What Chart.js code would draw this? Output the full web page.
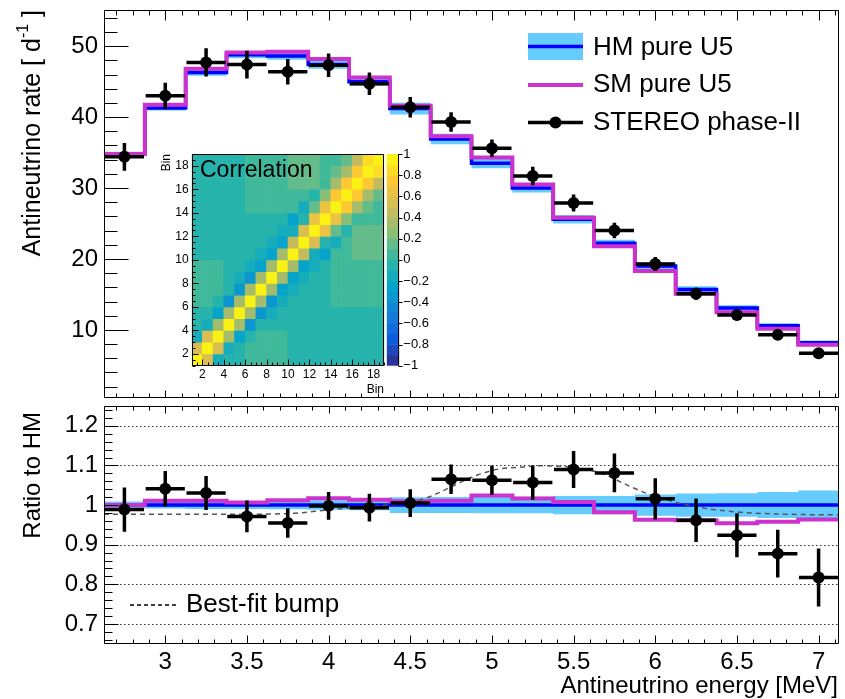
<!DOCTYPE html>
<html>
<head>
<meta charset="utf-8">
<script src="https://cdn.jsdelivr.net/npm/chart.js@4.4.1/dist/chart.umd.min.js"></script>
<style>
html,body{margin:0;padding:0;background:#fff;}
#wrap{position:relative;width:845px;height:699px;overflow:hidden;background:#fff;}
canvas{position:absolute;}
</style>
</head>
<body>
<div id="wrap">
<canvas id="cTop" width="845" height="404" style="left:0;top:0;width:845px;height:404px"></canvas>
<canvas id="cRatio" width="845" height="299" style="left:0;top:400px;width:845px;height:299px"></canvas>
<canvas id="cInset" width="240" height="250" style="left:150px;top:145px;width:240px;height:250px"></canvas>
<canvas id="cBar" width="60" height="250" style="left:380px;top:145px;width:60px;height:250px"></canvas>
</div>
<script>
// ---------------- DATA ----------------
const binCenters = [2.75,3.0,3.25,3.5,3.75,4.0,4.25,4.5,4.75,5.0,5.25,5.5,5.75,6.0,6.25,6.5,6.75,7.0];
const hmRate     = [34.8,41.3,46.3,48.8,48.6,47.4,45.0,41.2,36.9,33.5,30.0,25.6,22.2,19.0,15.7,13.1,10.6,8.2];
const hmErr      = [0.31,0.37,0.46,0.49,0.53,0.57,0.59,0.82,0.74,0.70,0.63,0.59,0.51,0.51,0.46,0.39,0.35,0.30];
const smRate     = [34.8,41.75,46.8,49.1,49.2,48.2,45.6,41.6,37.3,34.3,30.5,25.8,21.8,18.3,15.1,12.5,10.15,7.9];
const stereoRate = [34.4,43.0,47.7,47.4,46.4,47.3,44.7,41.4,39.3,35.6,31.7,27.9,24.0,19.3,15.1,12.1,9.3,6.7];
const stereoErr  = [1.95,1.86,1.99,1.95,1.80,1.66,1.58,1.44,1.37,1.24,1.29,1.20,1.09,0.99,0.86,0.73,0.64,0.60];
const bumpEnergy = [2.625,3.5,3.78,4.0,4.3,4.5,4.63,4.77,4.9,5.03,5.16,5.3,5.42,5.55,5.69,5.82,5.95,6.09,6.22,6.35,6.55,6.78,7.125];
const bumpRatio  = [0.977,0.977,0.979,0.988,0.998,1.007,1.023,1.05,1.074,1.09,1.095,1.099,1.098,1.093,1.077,1.052,1.029,1.011,0.998,0.989,0.981,0.977,0.975];
const rateTicks  = [10,20,30,40,50];
const ratioTicks = [0.7,0.8,0.9,1,1.1,1.2];
const energyTicks= [3,3.5,4,4.5,5,5.5,6,6.5,7];
const binTicks   = [2,4,6,8,10,12,14,16,18];
const corrTicks  = [-1,-0.8,-0.6,-0.4,-0.2,0,0.2,0.4,0.6,0.8,1];
const corrLevels = [-1,-0.9,-0.8,-0.7,-0.6,-0.5,-0.4,-0.3,-0.2,-0.1,0,0.1,0.2,0.3,0.4,0.5,0.6,0.7,0.8,0.9,1];
// correlation matrix: row = bin 1 (bottom) .. bin 18 (top), columns bin 1..18
const corrMatrix = [
 [1,0.55,-0.15,-0.05,-0.02,0.05,0.05,0.05,0.05,-0.02,-0.02,-0.02,-0.02,-0.02,-0.02,-0.02,-0.02,-0.02],
 [0.55,1,0.5,-0.2,-0.05,0.05,0.05,0.05,0.05,-0.02,-0.02,-0.02,-0.02,-0.02,-0.02,-0.02,-0.02,-0.02],
 [-0.15,0.5,1,0.35,-0.3,-0.05,0.05,0.05,0.05,-0.02,-0.02,-0.02,-0.02,-0.02,-0.02,-0.02,-0.02,-0.02],
 [-0.05,-0.2,0.35,1,0.3,-0.35,-0.05,-0.02,-0.02,-0.02,-0.02,-0.02,-0.02,-0.02,-0.02,-0.02,-0.02,-0.02],
 [-0.02,-0.05,-0.3,0.3,1,0.3,-0.35,-0.12,-0.02,-0.02,-0.02,-0.02,-0.02,-0.02,-0.02,-0.02,-0.02,-0.02],
 [0.05,0.05,-0.05,-0.35,0.3,1,0.3,-0.35,-0.12,-0.02,-0.02,-0.02,-0.02,0.05,0.05,0.05,0.05,0.05],
 [0.05,0.05,0.05,-0.05,-0.35,0.3,1,0.3,-0.3,-0.12,-0.02,-0.02,-0.02,0.05,0.05,0.05,0.05,0.05],
 [0.05,0.05,0.05,-0.02,-0.12,-0.35,0.3,1,0.3,-0.3,-0.15,-0.02,-0.02,0.05,0.05,0.05,0.05,0.05],
 [0.05,0.05,0.05,-0.02,-0.02,-0.12,-0.3,0.3,1,0.35,-0.25,-0.2,-0.02,0.05,0.05,0.05,0.05,0.05],
 [-0.02,-0.02,-0.02,-0.02,-0.02,-0.02,-0.12,-0.3,0.35,1,0.45,-0.2,-0.3,0.05,0.05,0.15,0.15,0.15],
 [-0.02,-0.02,-0.02,-0.02,-0.02,-0.02,-0.02,-0.15,-0.25,0.45,1,0.55,-0.05,-0.2,0.05,0.15,0.15,0.15],
 [-0.02,-0.02,-0.02,-0.02,-0.02,-0.02,-0.02,-0.02,-0.2,-0.2,0.55,1,0.6,0.1,-0.05,0.15,0.15,0.15],
 [-0.02,-0.02,-0.02,-0.02,-0.02,-0.02,-0.02,-0.02,-0.02,-0.3,-0.05,0.6,1,0.65,0.2,0.05,0.05,0.05],
 [-0.02,-0.02,-0.02,-0.02,-0.02,0.05,0.05,0.05,0.05,0.05,-0.2,0.1,0.65,1,0.7,0.3,0.1,0.05],
 [-0.02,-0.02,-0.02,-0.02,-0.02,0.05,0.05,0.05,0.05,0.05,0.05,-0.05,0.2,0.7,1,0.7,0.35,0.15],
 [-0.02,-0.02,-0.02,-0.02,-0.02,0.05,0.05,0.05,0.05,0.15,0.15,0.15,0.05,0.3,0.7,1,0.75,0.4],
 [-0.02,-0.02,-0.02,-0.02,-0.02,0.05,0.05,0.05,0.05,0.15,0.15,0.15,0.05,0.1,0.35,0.75,1,0.8],
 [-0.02,-0.02,-0.02,-0.02,-0.02,0.05,0.05,0.05,0.05,0.15,0.15,0.15,0.05,0.05,0.15,0.4,0.8,1]
];

// ---------------- STYLE ----------------
const FONT = '"Liberation Sans", Arial, Helvetica, sans-serif';
const BLUE = '#0000ff', MAG = '#cc33cc', BAND = '#66ccff', TXT = '#000';
const HALF = 0.125;
const MARK_R = 6, ERR_W = 3.5;
const BIRD = [[53,42,135],[15,92,221],[20,129,214],[6,164,202],[46,183,164],[135,191,119],[209,187,89],[254,200,50],[249,251,14]];
Chart.defaults.font.family = FONT;
Chart.defaults.color = TXT;

function birdAt(p){
  const s = p*(BIRD.length-1); const i = Math.min(Math.floor(s), BIRD.length-2); const t = s-i;
  const a = BIRD[i], b = BIRD[i+1];
  return 'rgb('+Math.round(a[0]+(b[0]-a[0])*t)+','+Math.round(a[1]+(b[1]-a[1])*t)+','+Math.round(a[2]+(b[2]-a[2])*t)+')';
}
function levelColor(k){ return birdAt((k+0.5)/(corrLevels.length-1)); }
function corrColor(v){
  let k = 0;
  for (let i=0;i<corrLevels.length-1;i++){ if (v >= corrLevels[i]-1e-9) k = i; }
  return levelColor(k);
}
function steps(vals){
  const pts = vals.map((v,i)=>({x:binCenters[i]-HALF, y:v}));
  pts.push({x:binCenters[binCenters.length-1]+HALF, y:vals[vals.length-1]});
  return pts;
}
function tickValues(min,max,minor,major){
  const out=[]; const k0=Math.ceil(min/minor-1e-9), k1=Math.floor(max/minor+1e-9);
  for(let k=k0;k<=k1;k++){ const v=k*minor; const r=v/major; out.push({v, major:Math.abs(r-Math.round(r))<1e-6}); }
  return out;
}
function noPad(s){ s.paddingTop=0; s.paddingBottom=0; s.paddingLeft=0; s.paddingRight=0; }
function drawFrameTicks(chart,cfg){
  const {ctx, chartArea:a} = chart; const X=chart.scales.x, Y=chart.scales.y;
  ctx.save(); ctx.strokeStyle='#000'; ctx.lineWidth=1; ctx.setLineDash([]);
  const L=Math.round(a.left)+0.5, R=Math.round(a.right)-0.5, T=Math.round(a.top)+0.5, B=Math.round(a.bottom)-0.5;
  ctx.beginPath();
  if (cfg.frame) ctx.rect(L,T,R-L,B-T);
  if (cfg.xMinor){
    for (const t of tickValues(X.min,X.max,cfg.xMinor,cfg.xMajor)){
      const px=Math.round(X.getPixelForValue(t.v))+0.5;
      if (cfg.xTop){ const l=t.major?cfg.xTop[0]:cfg.xTop[1]; ctx.moveTo(px,T); ctx.lineTo(px,T+l); }
      if (cfg.xBot){ const l=t.major?cfg.xBot[0]:cfg.xBot[1]; ctx.moveTo(px,B); ctx.lineTo(px,B-l); }
    }
  }
  if (cfg.yMinor){
    for (const t of tickValues(Y.min,Y.max,cfg.yMinor,cfg.yMajor)){
      const py=Math.round(Y.getPixelForValue(t.v))+0.5;
      if (cfg.yLeft){ const l=t.major?cfg.yLeft[0]:cfg.yLeft[1]; ctx.moveTo(L,py); ctx.lineTo(L+l,py); }
      if (cfg.yRight){ const l=t.major?cfg.yRight[0]:cfg.yRight[1]; ctx.moveTo(R,py); ctx.lineTo(R+l,py); }
    }
  }
  ctx.stroke(); ctx.restore();
}
function drawErrorBars(chart, xs, ys, es){
  const {ctx}=chart; const X=chart.scales.x, Y=chart.scales.y;
  ctx.save(); ctx.strokeStyle='#000'; ctx.lineWidth=ERR_W; ctx.setLineDash([]);
  ctx.beginPath();
  for (let i=0;i<xs.length;i++){
    const px=X.getPixelForValue(xs[i]), py=Y.getPixelForValue(ys[i]);
    ctx.moveTo(X.getPixelForValue(xs[i]-HALF+0.005),py); ctx.lineTo(X.getPixelForValue(xs[i]+HALF-0.005),py);
    ctx.moveTo(px,Y.getPixelForValue(ys[i]-es[i])); ctx.lineTo(px,Y.getPixelForValue(ys[i]+es[i]));
  }
  ctx.stroke(); ctx.restore();
}
function rotatedText(ctx, parts, x, yTop){
  ctx.save(); ctx.translate(x,yTop); ctx.rotate(-Math.PI/2);
  ctx.textBaseline='middle'; ctx.textAlign='left'; ctx.fillStyle=TXT;
  let total=0; for (const p of parts){ ctx.font=p[1]; total+=ctx.measureText(p[0]).width; }
  let cx=-total;
  for (const p of parts){ ctx.font=p[1]; ctx.fillText(p[0],cx,p[2]); cx+=ctx.measureText(p[0]).width; }
  ctx.restore();
}
const commonOpts = {responsive:false, animation:false, events:[], devicePixelRatio:1,
  plugins:{legend:{display:false}, tooltip:{enabled:false}}};

// ---------------- TOP PANEL ----------------
const topPlugin = {
  id:'topPanel',
  beforeDatasetDraw(chart,args){ if(args.index===0) drawErrorBars(chart, binCenters, stereoRate, stereoErr); },
  afterDraw(chart){
    drawFrameTicks(chart,{frame:true,xMinor:0.1,xMajor:0.5,xTop:[10,5],xBot:[7,4],yMinor:2,yMajor:10,yLeft:[24,13]});
    const ctx=chart.ctx;
    rotatedText(ctx,[['Antineutrino rate [ d','25px '+FONT,0],['-1','16px '+FONT,-9],[' ]','25px '+FONT,0]],33,10);
    ctx.save();
    ctx.fillStyle=BAND; ctx.fillRect(528,33,55,27);
    ctx.lineWidth=3.5; ctx.strokeStyle=BLUE; ctx.beginPath(); ctx.moveTo(528,46.5); ctx.lineTo(583,46.5); ctx.stroke();
    ctx.lineWidth=4; ctx.strokeStyle=MAG; ctx.beginPath(); ctx.moveTo(528,85); ctx.lineTo(583,85); ctx.stroke();
    ctx.lineWidth=ERR_W; ctx.strokeStyle='#000'; ctx.beginPath(); ctx.moveTo(528,122.5); ctx.lineTo(583,122.5); ctx.stroke();
    ctx.fillStyle='#000'; ctx.beginPath(); ctx.arc(555.5,122.5,MARK_R,0,Math.PI*2); ctx.fill();
    ctx.font='26px '+FONT; ctx.textAlign='left'; ctx.textBaseline='alphabetic'; ctx.fillStyle=TXT;
    ctx.fillText('HM pure U5',593,55);
    ctx.fillText('SM pure U5',593,92);
    ctx.fillText('STEREO phase-II',593,129.5);
    ctx.restore();
  }
};
new Chart(document.getElementById('cTop'),{
  type:'line',
  data:{datasets:[
    {label:'STEREO phase-II', data:binCenters.map((x,i)=>({x,y:stereoRate[i]})), showLine:false, pointRadius:MARK_R, pointBackgroundColor:'#000', pointBorderColor:'#000', pointBorderWidth:0},
    {label:'SM pure U5', data:steps(smRate), stepped:'before', borderColor:MAG, borderWidth:4, pointRadius:0, fill:false},
    {label:'HM pure U5', data:steps(hmRate), stepped:'before', borderColor:BLUE, borderWidth:3.5, pointRadius:0, fill:false},
    {label:'HM up', data:steps(hmRate.map((v,i)=>v+hmErr[i])), stepped:'before', borderColor:'rgba(0,0,0,0)', borderWidth:0, pointRadius:0, fill:false},
    {label:'HM lo', data:steps(hmRate.map((v,i)=>v-hmErr[i])), stepped:'before', borderColor:'rgba(0,0,0,0)', borderWidth:0, pointRadius:0, fill:'-1', backgroundColor:BAND}
  ]},
  options:Object.assign({}, commonOpts, {
    layout:{padding:{left:0,top:10,right:6,bottom:2}},
    scales:{
      x:{type:'linear', min:2.625, max:7.125, display:false, afterFit:noPad},
      y:{type:'linear', min:0.4, max:55.1,
         afterBuildTicks:s=>{s.ticks=rateTicks.map(v=>({value:v}));},
         afterFit:s=>{s.width=104; noPad(s);},
         grid:{display:false, drawTicks:false}, border:{display:false},
         ticks:{font:{size:24,family:FONT}, color:TXT, padding:6, callback:v=>String(v)}}
    }
  }),
  plugins:[topPlugin]
});

// ---------------- RATIO PANEL ----------------
const ratioVals = stereoRate.map((v,i)=>v/hmRate[i]);
const ratioErrs = stereoErr.map((e,i)=>e/hmRate[i]);
const ratioPlugin = {
  id:'ratioPanel',
  beforeDatasetsDraw(chart){
    const {ctx, chartArea:a}=chart; const Y=chart.scales.y;
    ctx.save(); ctx.strokeStyle='#333'; ctx.lineWidth=1; ctx.setLineDash([1.5,2.5]);
    ctx.beginPath();
    for (const v of ratioTicks){ const py=Math.round(Y.getPixelForValue(v))+0.5; ctx.moveTo(a.left,py); ctx.lineTo(a.right,py); }
    ctx.stroke(); ctx.restore();
  },
  beforeDatasetDraw(chart,args){ if(args.index===0) drawErrorBars(chart, binCenters, ratioVals, ratioErrs); },
  afterDraw(chart){
    drawFrameTicks(chart,{frame:true,xMinor:0.1,xMajor:0.5,xTop:[7,4],xBot:[8,4],yMinor:0.02,yMajor:0.1,yLeft:[14,8]});
    const ctx=chart.ctx;
    rotatedText(ctx,[['Ratio to HM','24px '+FONT,0]],33,12);
    ctx.save();
    ctx.font='24px '+FONT; ctx.fillStyle=TXT; ctx.textAlign='right'; ctx.textBaseline='alphabetic';
    ctx.fillText('Antineutrino energy [MeV]',838,293);
    ctx.strokeStyle='#000'; ctx.lineWidth=1.5; ctx.setLineDash([4,3]);
    ctx.beginPath(); ctx.moveTo(130,205); ctx.lineTo(176,205); ctx.stroke();
    ctx.setLineDash([]);
    ctx.font='26px '+FONT; ctx.textAlign='left';
    ctx.fillText('Best-fit bump',186,212);
    ctx.restore();
  }
};
new Chart(document.getElementById('cRatio'),{
  type:'line',
  data:{datasets:[
    {label:'STEREO phase-II', data:binCenters.map((x,i)=>({x,y:ratioVals[i]})), showLine:false, pointRadius:MARK_R, pointBackgroundColor:'#000', pointBorderColor:'#000', pointBorderWidth:0},
    {label:'Best-fit bump', data:bumpEnergy.map((x,i)=>({x,y:bumpRatio[i]})), borderColor:'#555', borderWidth:1.5, borderDash:[5,4], pointRadius:0, cubicInterpolationMode:'monotone', fill:false},
    {label:'SM/HM', data:steps(smRate.map((v,i)=>v/hmRate[i])), stepped:'before', borderColor:MAG, borderWidth:4, pointRadius:0, fill:false},
    {label:'HM/HM', data:steps(hmRate.map(v=>v/v)), stepped:'before', borderColor:BLUE, borderWidth:3.5, pointRadius:0, fill:false},
    {label:'HM up', data:steps(hmRate.map((v,i)=>(v+hmErr[i])/v)), stepped:'before', borderColor:'rgba(0,0,0,0)', borderWidth:0, pointRadius:0, fill:false},
    {label:'HM lo', data:steps(hmRate.map((v,i)=>(v-hmErr[i])/v)), stepped:'before', borderColor:'rgba(0,0,0,0)', borderWidth:0, pointRadius:0, fill:'-1', backgroundColor:BAND}
  ]},
  options:Object.assign({}, commonOpts, {
    layout:{padding:{left:0,top:4,right:6,bottom:0}},
    scales:{
      x:{type:'linear', min:2.625, max:7.125,
         afterBuildTicks:s=>{s.ticks=energyTicks.map(v=>({value:v}));},
         afterFit:s=>{s.height=55.3; noPad(s);},
         grid:{display:false, drawTicks:false}, border:{display:false},
         ticks:{font:{size:24,family:FONT}, color:TXT, padding:4, autoSkip:false, maxRotation:0, callback:v=>String(v)}},
      y:{type:'linear', min:0.65, max:1.25,
         afterBuildTicks:s=>{s.ticks=ratioTicks.map(v=>({value:v}));},
         afterFit:s=>{s.width=104; noPad(s);},
         grid:{display:false, drawTicks:false}, border:{display:false},
         ticks:{font:{size:24,family:FONT}, color:TXT, padding:6, callback:v=>String(v)}}
    }
  }),
  plugins:[ratioPlugin]
});

// ---------------- INSET: CORRELATION MATRIX ----------------
const cells=[], cellColors=[];
for (let r=0;r<corrMatrix.length;r++){
  for (let c=0;c<corrMatrix[r].length;c++){
    cells.push({x:c+1.5, y:[r+1, r+2]});
    cellColors.push(corrColor(corrMatrix[r][c]));
  }
}
const insetPlugin = {
  id:'insetPanel',
  afterDraw(chart){
    drawFrameTicks(chart,{frame:true,xMinor:0.5,xMajor:2,xBot:[6,3],yMinor:0.5,yMajor:2,yLeft:[6,3]});
    const ctx=chart.ctx;
    ctx.save();
    ctx.fillStyle=TXT; ctx.font='23px '+FONT; ctx.textAlign='left'; ctx.textBaseline='alphabetic';
    ctx.fillText('Correlation',50,32);
    ctx.font='12px '+FONT; ctx.textAlign='right';
    ctx.fillText('Bin',234,248);
    ctx.restore();
    rotatedText(ctx,[['Bin','12px '+FONT,0]],17,9);
  }
};
new Chart(document.getElementById('cInset'),{
  type:'bar',
  data:{datasets:[{label:'Correlation', data:cells, backgroundColor:cellColors, borderWidth:0, barPercentage:1, categoryPercentage:1}]},
  options:Object.assign({}, commonOpts, {
    layout:{padding:{left:0,top:9,right:5.7,bottom:0}},
    scales:{
      x:{type:'linear', min:1, max:19, offset:false,
         afterBuildTicks:s=>{s.ticks=binTicks.map(v=>({value:v}));},
         afterFit:s=>{s.height=29.3; noPad(s);},
         grid:{display:false, drawTicks:false, offset:false}, border:{display:false},
         ticks:{font:{size:12,family:FONT}, color:TXT, padding:2, autoSkip:false, maxRotation:0, callback:v=>String(v)}},
      y:{type:'linear', min:1, max:19,
         afterBuildTicks:s=>{s.ticks=binTicks.map(v=>({value:v}));},
         afterFit:s=>{s.width=41.7; noPad(s);},
         grid:{display:false, drawTicks:false}, border:{display:false},
         ticks:{font:{size:12,family:FONT}, color:TXT, padding:3, callback:v=>String(v)}}
    }
  }),
  plugins:[insetPlugin]
});

// ---------------- INSET: COLOUR BAR ----------------
const barCells=[], barColors=[];
for (let k=0;k<corrLevels.length-1;k++){ barCells.push({x:0.5, y:[corrLevels[k], corrLevels[k+1]]}); barColors.push(levelColor(k)); }
const barPlugin = {
  id:'colorBar',
  afterDraw(chart){
    const {ctx, chartArea:a}=chart; const Y=chart.scales.y;
    ctx.save(); ctx.strokeStyle='#000'; ctx.lineWidth=1; ctx.beginPath();
    const R=Math.round(a.right)-0.5;
    ctx.moveTo(R,a.top); ctx.lineTo(R,a.bottom);
    for (const v of corrTicks){ const py=Math.round(Y.getPixelForValue(v))+0.5; ctx.moveTo(R,py); ctx.lineTo(R+4,py); }
    ctx.stroke(); ctx.restore();
  }
};
new Chart(document.getElementById('cBar'),{
  type:'bar',
  data:{datasets:[{label:'scale', data:barCells, backgroundColor:barColors, borderWidth:0, barPercentage:1, categoryPercentage:1}]},
  options:Object.assign({}, commonOpts, {
    layout:{padding:{left:6.7,top:9,right:0,bottom:29.3}},
    scales:{
      x:{type:'linear', min:0, max:1, offset:false, display:false,
         afterBuildTicks:s=>{s.ticks=[{value:0},{value:1}];}, afterFit:noPad},
      y:{type:'linear', position:'right', min:-1, max:1,
         afterBuildTicks:s=>{s.ticks=corrTicks.map(v=>({value:v}));},
         afterFit:s=>{s.width=40.7; noPad(s);},
         grid:{display:false, drawTicks:false}, border:{display:false},
         ticks:{font:{size:13,family:FONT}, color:TXT, padding:4, callback:v=>String(v).replace('-','\u2212')}}
    }
  }),
  plugins:[barPlugin]
});
</script>
</body>
</html>
